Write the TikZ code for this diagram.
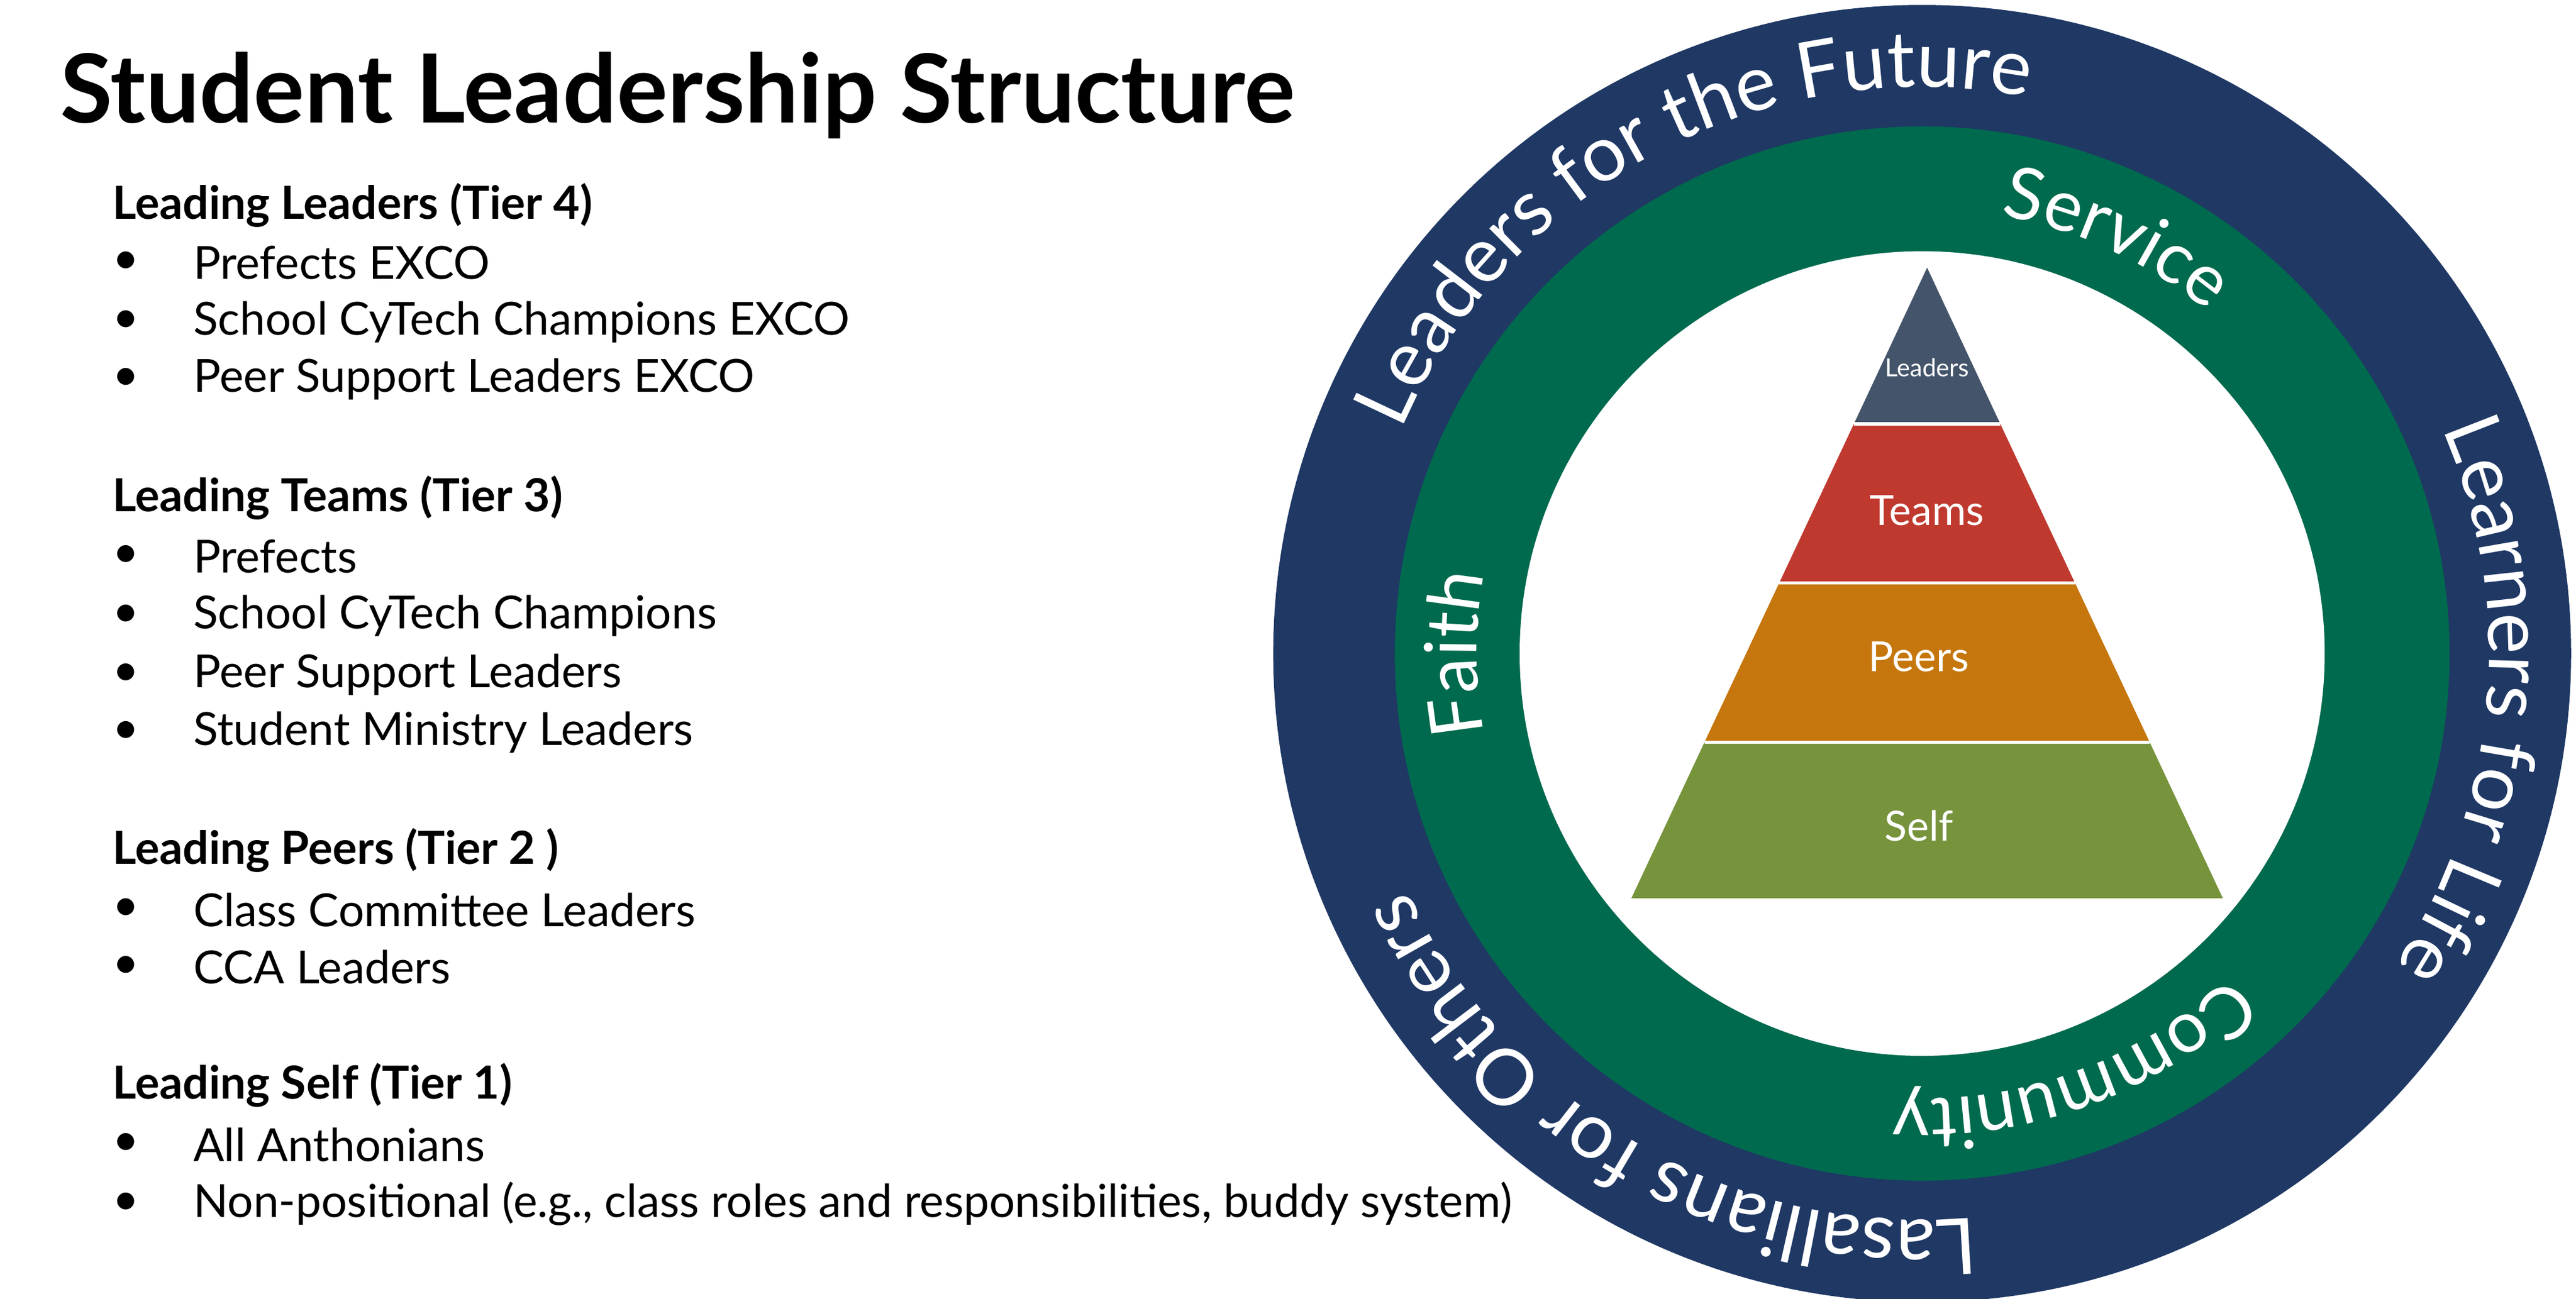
\documentclass[tikz,border=0pt]{standalone}
\usepackage{fontspec}
\setmainfont{Lato}
\usetikzlibrary{decorations.text}
\definecolor{navy}{HTML}{1F3864}
\definecolor{ringgreen}{HTML}{006A4E}
\definecolor{tierA}{HTML}{44546A}
\definecolor{tierB}{HTML}{C0392F}
\definecolor{tierC}{HTML}{C5760C}
\definecolor{tierD}{HTML}{77933C}
\tikzset{
  head/.style={anchor=west, font=\fontsize{7.9}{9}\selectfont\bfseries, inner sep=0pt},
  item/.style={anchor=west, font=\fontsize{7.9}{9}\selectfont, inner sep=0pt},
  tier/.style={draw=white, line width=0.6pt},
  tierlbl/.style={text=white, font=\fontsize{7.2}{8}\selectfont},
  ringtext/.style={decorate, decoration={text along path, text align=center, text={#1}}}
}
\newcommand{\bul}[3]{\node[item] (#1) at (0.68,#2) {\textbullet}; \node[item] (#1t) at (1.17,#2) {#3};}
\begin{document}
\begin{tikzpicture}
  \useasboundingbox (0,0) rectangle (15.68,7.91);
  % title
  \node[anchor=west, inner sep=0pt, font=\fontsize{16.5}{18}\selectfont\bfseries] (title) at (0.36,7.33) {Student Leadership Structure};
  % tier 4
  \node[head] (h4) at (0.68,6.66) {Leading Leaders (Tier 4)};
  \bul{a1}{6.31}{Prefects EXCO}
  \bul{a2}{5.95}{School CyTech Champions EXCO}
  \bul{a3}{5.60}{Peer Support Leaders EXCO}
  % tier 3
  \node[head] (h3) at (0.68,4.88) {Leading Teams (Tier 3)};
  \bul{b1}{4.52}{Prefects}
  \bul{b2}{4.16}{School CyTech Champions}
  \bul{b3}{3.80}{Peer Support Leaders}
  \bul{b4}{3.45}{Student Ministry Leaders}
  % tier 2
  \node[head] (h2) at (0.68,2.73) {Leading Peers (Tier 2 )};
  \bul{c1}{2.37}{Class Committee Leaders}
  \bul{c2}{2.02}{CCA Leaders}
  % tier 1
  \node[head] (h1) at (0.68,1.30) {Leading Self (Tier 1)};
  \bul{d1}{0.94}{All Anthonians}
  \bul{d2}{0.58}{Non-positional (e.g., class roles and responsibilities, buddy system)}
  % rings
  \coordinate (c) at (11.70,3.93);
  \fill[navy] (c) circle (3.95);
  \fill[ringgreen] (c) circle (3.21);
  \fill[white] (c) circle (2.45);
  \path[ringtext={|\color{white}\fontsize{13.5}{16}\selectfont|Leaders for the Future}] ([shift={(178:3.45)}]c) arc (178:58:3.45);
  \path[ringtext={|\color{white}\fontsize{13.5}{16}\selectfont|Learners for Life}] ([shift={(55:3.45)}]c) arc (55:-65:3.45);
  \path[ringtext={|\color{white}\fontsize{13.5}{16}\selectfont|Lasallians for Others}] ([shift={(-60:3.45)}]c) arc (-60:-180:3.45);
  \path[ringtext={|\color{white}\fontsize{12.5}{15}\selectfont|Service}] ([shift={(125:2.71)}]c) arc (125:5:2.71);
  \path[ringtext={|\color{white}\fontsize{12.5}{15}\selectfont|Community}] ([shift={(-10:2.71)}]c) arc (-10:-130:2.71);
  \path[ringtext={|\color{white}\fontsize{12.5}{15}\selectfont|Faith}] ([shift={(240:2.71)}]c) arc (240:120:2.71);
  % pyramid
  \fill[tierD] (9.93,2.44) -- (13.53,2.44) -- (13.085,3.39) -- (10.375,3.39) -- cycle;
  \fill[tierC] (10.375,3.39) -- (13.085,3.39) -- (12.63,4.36) -- (10.83,4.36) -- cycle;
  \fill[tierB] (10.83,4.36) -- (12.63,4.36) -- (12.175,5.33) -- (11.285,5.33) -- cycle;
  \fill[tierA] (11.285,5.33) -- (12.175,5.33) -- (11.73,6.28) -- cycle;
  \draw[tier] (10.375,3.39) -- (13.085,3.39);
  \draw[tier] (10.83,4.36) -- (12.63,4.36);
  \draw[tier] (11.285,5.33) -- (12.175,5.33);
  \node[tierlbl, font=\fontsize{4.3}{5}\selectfont] (leaders) at (11.73,5.67) {Leaders};
  \node[tierlbl] (teams) at (11.73,4.80) {Teams};
  \node[tierlbl] (peers) at (11.68,3.91) {Peers};
  \node[tierlbl] (self) at (11.68,2.88) {Self};
\end{tikzpicture}
\end{document}
